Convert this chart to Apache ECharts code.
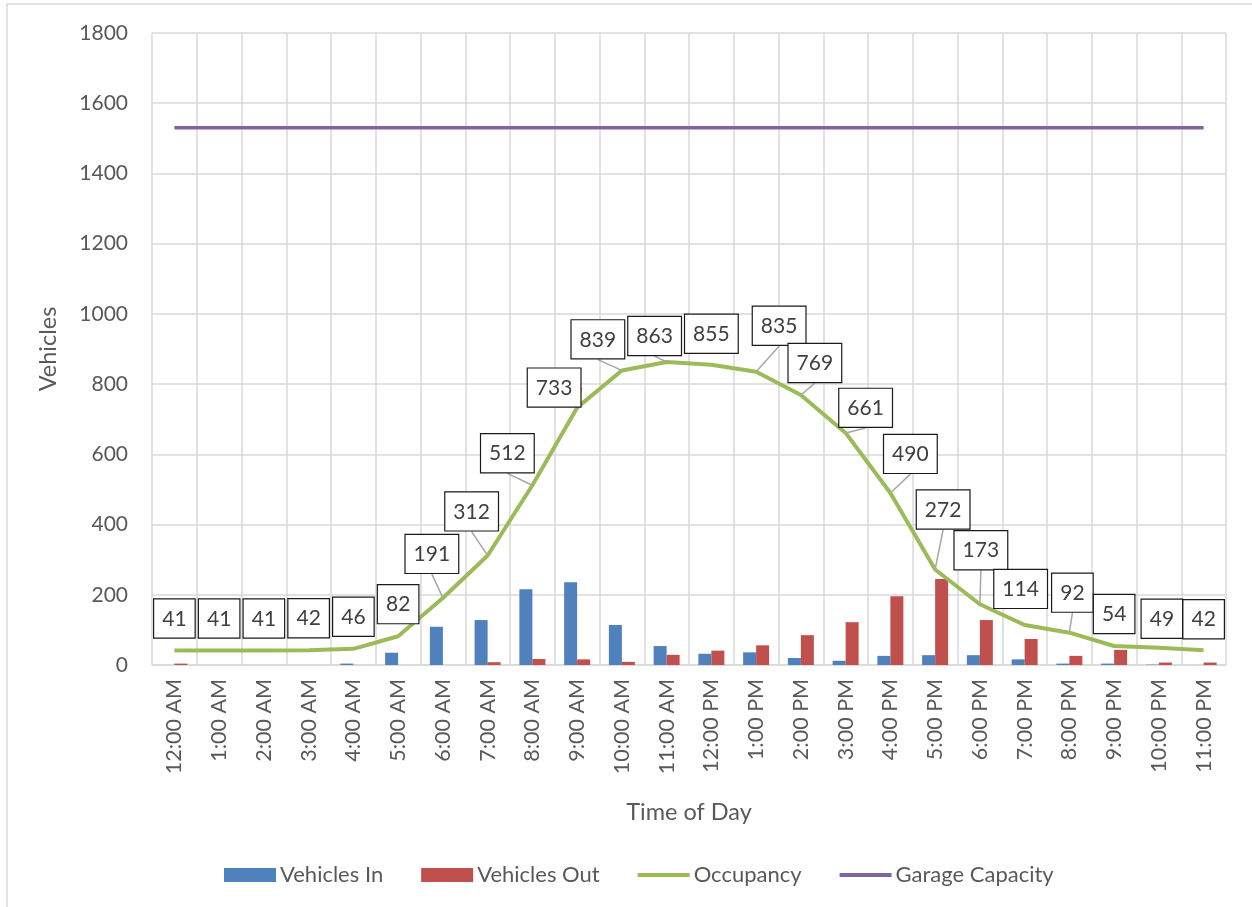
<!DOCTYPE html>
<html>
<head>
<meta charset="utf-8">
<script src="https://cdn.jsdelivr.net/npm/echarts@6/dist/echarts.min.js"></script>
<style>html,body{margin:0;padding:0;background:#fff;}#chart{width:1252px;height:907px;}</style>
</head>
<body>
<div id="chart"></div>
<script>
const categories = ['12:00 AM','1:00 AM','2:00 AM','3:00 AM','4:00 AM','5:00 AM','6:00 AM','7:00 AM','8:00 AM','9:00 AM','10:00 AM','11:00 AM','12:00 PM','1:00 PM','2:00 PM','3:00 PM','4:00 PM','5:00 PM','6:00 PM','7:00 PM','8:00 PM','9:00 PM','10:00 PM','11:00 PM'];
const vehiclesIn  = [0, 0, 0, 0, 4, 35, 109, 128, 216, 236, 114, 54, 32, 36, 20, 12, 26, 28, 28, 16, 4, 4, 1, 0];
const vehiclesOut = [4, 0, 0, 0, 0, 0, 0, 8, 17, 16, 9, 29, 41, 56, 85, 122, 196, 245, 128, 74, 26, 43, 7, 7];
const occupancy   = [41, 41, 41, 42, 46, 82, 191, 312, 512, 733, 839, 863, 855, 835, 769, 661, 490, 272, 173, 114, 92, 54, 49, 42];
const garageCapacity = [1530, 1530, 1530, 1530, 1530, 1530, 1530, 1530, 1530, 1530, 1530, 1530, 1530, 1530, 1530, 1530, 1530, 1530, 1530, 1530, 1530, 1530, 1530, 1530];
const yTicks = { min: 0, max: 1800, interval: 200 };

// label nudges (relative to default 'top' placement), like manually dragged Excel labels
const labelNudge = [[0,0],[0,0],[0,0],[0,0],[0,0],[0,0],[-11,-12],[-16,-12],[-25,0],[-23,12],[-24,1],[-12,6],[0,1],[23,-14],[14,0],[20,7],[20,-7],[8,-28],[1,-22],[-4,-4],[3,-8],[0,0],[3,3],[0,1]];

const FONT = 'Lato';
const TXT = '#595959';
const LINE_ICON = 'path://M0,0 L52,0 L52,4 L0,4 Z';

const chart = echarts.init(document.getElementById('chart'), null, {renderer: 'canvas'});
chart.setOption({
  animation: false,
  backgroundColor: '#fff',
  textStyle: { fontFamily: FONT },
  graphic: [{
    type: 'rect', silent: true, z: -10,
    shape: { x: 7, y: 4, width: 1400, height: 1000 },
    style: { fill: 'none', stroke: '#d9d9d9', lineWidth: 1.5 }
  }],
  grid: { left: 152, right: 26, top: 33, bottom: 242, containLabel: false },
  legend: {
    left: 219, top: 859,
    itemWidth: 52, itemHeight: 14, itemGap: 38,
    symbolKeepAspect: true,
    textStyle: { fontFamily: FONT, fontSize: 22, color: TXT, padding: [0,0,0,-1] },
    data: [
      { name: 'Vehicles In', icon: 'rect' },
      { name: 'Vehicles Out', icon: 'rect' },
      { name: 'Occupancy', icon: LINE_ICON },
      { name: 'Garage Capacity', icon: LINE_ICON }
    ]
  },
  xAxis: {
    type: 'category',
    data: categories,
    boundaryGap: true,
    name: 'Time of Day',
    nameLocation: 'middle',
    nameGap: 135,
    nameTextStyle: { fontFamily: FONT, fontSize: 23.5, color: TXT },
    axisLine: { show: true, lineStyle: { color: '#d9d9d9', width: 1.5 } },
    axisTick: { show: false },
    axisLabel: { interval: 0, rotate: 90, margin: 14, fontFamily: FONT, fontSize: 21.5, color: TXT },
    splitLine: { show: true, interval: 0, lineStyle: { color: '#d9d9d9', width: 1.5 } }
  },
  yAxis: {
    type: 'value',
    min: yTicks.min, max: yTicks.max, interval: yTicks.interval,
    name: 'Vehicles',
    nameLocation: 'middle',
    nameGap: 92,
    nameRotate: 90,
    nameTextStyle: { fontFamily: FONT, fontSize: 23.5, color: TXT },
    axisLine: { show: false },
    axisTick: { show: false },
    axisLabel: { margin: 24, fontFamily: FONT, fontSize: 21, color: TXT, formatter: v => String(v) },
    splitLine: { show: true, lineStyle: { color: '#d9d9d9', width: 1.5 } }
  },
  series: [
    {
      name: 'Vehicles In', type: 'bar', data: vehiclesIn,
      barWidth: 13, barGap: '0%',
      itemStyle: { color: '#4f81bd' }
    },
    {
      name: 'Vehicles Out', type: 'bar', data: vehiclesOut,
      barWidth: 13, barGap: '0%',
      itemStyle: { color: '#c0504d' }
    },
    {
      name: 'Occupancy', type: 'line',
      data: occupancy.map((v, i) => {
        const n = labelNudge[i];
        const far = Math.abs(n[0]) + Math.abs(n[1]) > 8;
        return { value: v, labelLine: { show: far } };
      }),
      symbol: 'circle', symbolSize: 0.1, showSymbol: true, z: 5,
      lineStyle: { color: '#9bbb59', width: 4 },
      itemStyle: { color: '#9bbb59' },
      label: {
        show: true, position: 'top', distance: 13,
        fontFamily: FONT, fontSize: 21, color: '#404040',
        backgroundColor: '#fff', borderColor: '#1a1a1a', borderWidth: 1.2,
        padding: [9, 8, 8, 8]
      },
      labelLine: { show: true, lineStyle: { color: '#a6a6a6', width: 1.5 } },
      labelLayout: function (p) {
        const n = labelNudge[p.dataIndex] || [0, 0];
        return { dx: n[0], dy: n[1], hideOverlap: false };
      }
    },
    {
      name: 'Garage Capacity', type: 'line', data: garageCapacity,
      symbol: 'none', z: 4,
      lineStyle: { color: '#8064a2', width: 3.5 },
      itemStyle: { color: '#8064a2' }
    }
  ]
});
</script>
</body>
</html>
